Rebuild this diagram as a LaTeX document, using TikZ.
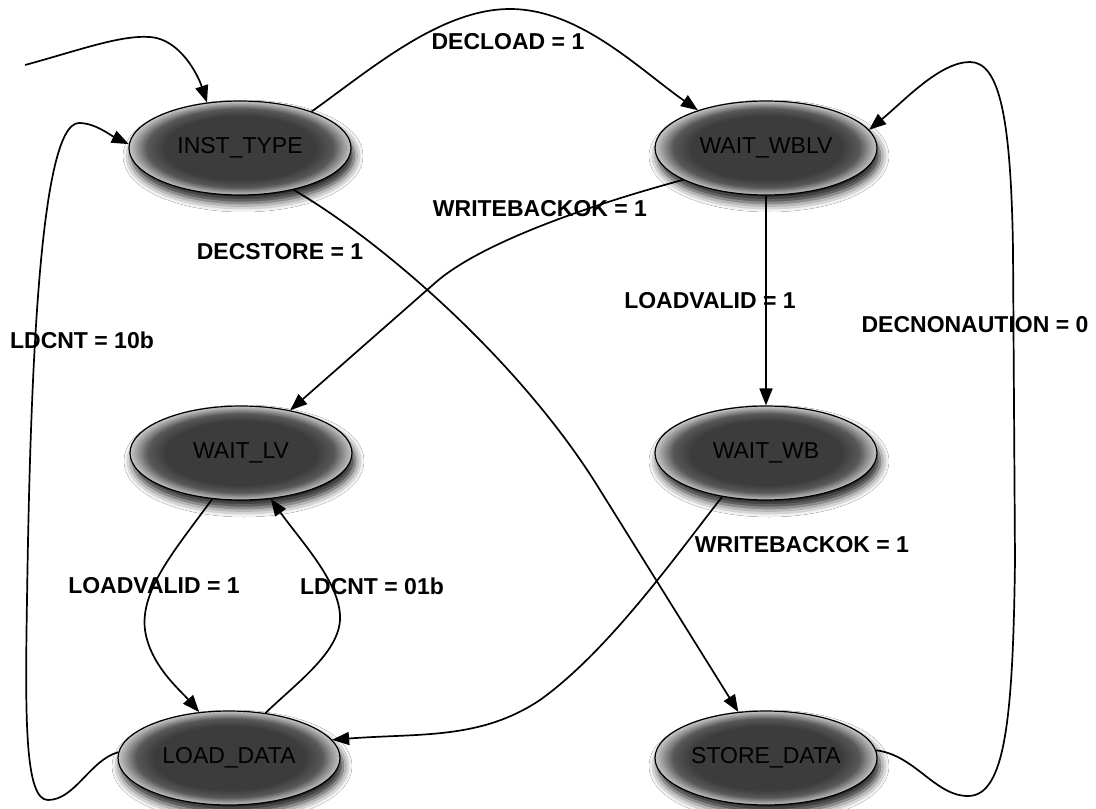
\documentclass[tikz,border=0pt]{standalone}
\usepackage{fontspec}
\setmainfont{Liberation Sans}
\usetikzlibrary{shapes.geometric,arrows.meta,shadows.blur}
\definecolor{sc}{HTML}{3C3C3C}
\definecolor{sm}{HTML}{585858}
\definecolor{se}{HTML}{C8C8C8}
\pgfdeclareradialshading{stateshade}{\pgfpoint{0bp}{0bp}}{color(0bp)=(sc);color(17bp)=(sc);color(21bp)=(sm);color(25bp)=(se);color(50bp)=(se)}
\begin{document}
\begin{tikzpicture}[x=1pt,y=-1pt,
  statebox/.style={ellipse, draw=black, line width=1.2pt, minimum width=222pt, minimum height=94pt,
    inner sep=0pt, shading=stateshade, text=black, font=\fontsize{23}{27}\selectfont,
    blur shadow={shadow xshift=3pt, shadow yshift=-8pt, shadow blur radius=9pt, shadow opacity=90}},
  conn/.style={draw=black, line width=1.7pt, -{Triangle[length=17pt,width=13pt]}},
  lbl/.style={font=\bfseries\fontsize{23}{27}\selectfont, inner sep=0pt, text=black}]
\useasboundingbox (0,0) rectangle (1096,809);
\fill[white] (0,0) rectangle (1096,809);

\node[statebox] (inst)  at (240,148) {INST\_TYPE};
\node[statebox] (wblv)  at (766,148) {WAIT\_WBLV};
\node[statebox] (wlv)   at (241,453) {WAIT\_LV};
\node[statebox] (wb)    at (766,453) {WAIT\_WB};
\node[statebox] (load)  at (229,758) {LOAD\_DATA};
\node[statebox] (store) at (766,758) {STORE\_DATA};

\coordinate (start) at (25,65);

% initial
\draw[conn] (start) .. controls (80,50) and (120,35) .. (150,37)
  .. controls (180,39) and (198,75) .. (inst.126);
% DECLOAD
\draw[conn] (inst.27) .. controls (370,70) and (440,9) .. (510,9)
  .. controls (580,9) and (640,70) .. (wblv.151);
% WAIT_WBLV -> WAIT_LV
\draw[conn] (wblv.201) .. controls (590,205) and (480,243) .. (435,283) -- (wlv.41);
% WAIT_WBLV -> WAIT_WB
\draw[conn] (wblv.south) -- (wb.north);
% INST -> STORE
\draw[conn] (inst.322) .. controls (380,240) and (520,360) .. (600,490) -- (store.121);
% WAIT_WB -> LOAD
\draw[conn] (wb.225) .. controls (680,550) and (610,650) .. (540,700)
  .. controls (480,740) and (420,733) .. (load.10);
% WAIT_LV -> LOAD
\draw[conn] (wlv.238) .. controls (175,550) and (140,590) .. (145,630)
  .. controls (150,665) and (180,690) .. (load.123);
% LOAD -> WAIT_LV
\draw[conn] (load.51) .. controls (300,680) and (342,650) .. (340,615)
  .. controls (338,580) and (300,540) .. (wlv.303);
% STORE -> WAIT_WBLV
\draw[conn] (store.4) .. controls (915,755) and (935,796) .. (968,796)
  .. controls (1005,796) and (1013,720) .. (1015,560) -- (1013,250)
  .. controls (1011,120) and (1000,62) .. (970,62)
  .. controls (940,62) and (905,100) .. (wblv.10);
% LOAD -> INST
\draw[conn] (load.177) .. controls (90,760) and (75,800) .. (48,800)
  .. controls (25,800) and (25,720) .. (27,600)
  .. controls (30,400) and (38,123) .. (79,123)
  .. controls (95,123) and (110,135) .. (inst.178);

% labels
\node[lbl] (l1) at (508,42) {DECLOAD = 1};
\node[lbl] (l2) at (540,209) {WRITEBACKOK = 1};
\node[lbl] (l3) at (280,252) {DECSTORE = 1};
\node[lbl] (l4) at (710,301) {LOADVALID = 1};
\node[lbl] (l5) at (975,325) {DECNONAUTION = 0};
\node[lbl] (l6) at (82,340) {LDCNT = 10b};
\node[lbl] (l7) at (154,586) {LOADVALID = 1};
\node[lbl] (l8) at (372,586) {LDCNT = 01b};
\node[lbl] (l9) at (802,545) {WRITEBACKOK = 1};
\end{tikzpicture}
\end{document}
